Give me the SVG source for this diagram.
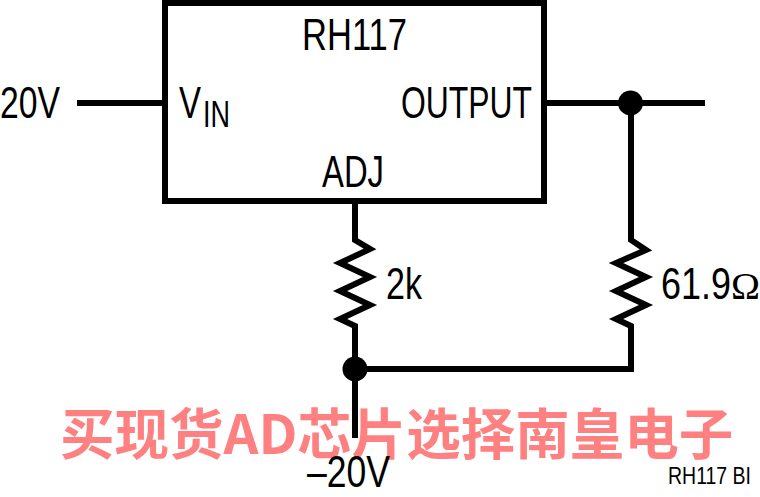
<svg xmlns="http://www.w3.org/2000/svg" width="760" height="497" viewBox="0 0 760 497">
<style>
.w{fill:none;stroke:#000;stroke-width:6;stroke-linejoin:miter;stroke-linecap:butt}
.d{fill:#000}
text{font-family:"Liberation Sans Narrow","Liberation Sans",sans-serif;fill:#000;font-size:44px}
.wm{font-family:"Noto Sans CJK SC",sans-serif;font-weight:700;font-size:54.5px;fill:#ff8080}
</style>
<rect width="760" height="497" fill="#fff"/>
<text class="wm" x="60" y="453.5">买现货AD芯片选择南皇电子</text>
<g id="connectors">
<path class="w" d="M77 103H165M547 103H705"/>
<path class="w" d="M355 204V240L370 249L340 263L370 277L340 291L370 305L340 319L355 326V438"/>
<path class="w" d="M631 103V240L646 250L616 263L646 277L616 291L646 305L616 319L631 326V369H355"/>
</g>
<g id="regulator">
<rect class="w" x="165" y="3" width="379" height="198"/>
<text x="302" y="50" textLength="105" lengthAdjust="spacingAndGlyphs">RH117</text>
<text x="179" y="118" textLength="22" lengthAdjust="spacingAndGlyphs">V</text>
<text x="203" y="127" style="font-size:36px" textLength="27" lengthAdjust="spacingAndGlyphs">IN</text>
<text x="401" y="118" textLength="131" lengthAdjust="spacingAndGlyphs">OUTPUT</text>
<text x="322" y="187" textLength="62" lengthAdjust="spacingAndGlyphs">ADJ</text>
</g>
<g id="junction-out"><circle class="d" cx="630.5" cy="103" r="12.5"/></g>
<g id="junction-adj"><circle class="d" cx="355" cy="369" r="12.5"/></g>
<g id="labels">
<text x="0" y="118" textLength="60" lengthAdjust="spacingAndGlyphs">20V</text>
<text x="386" y="299" textLength="36" lengthAdjust="spacingAndGlyphs">2k</text>
<text x="661" y="299" textLength="70" lengthAdjust="spacingAndGlyphs">61.9</text>
<text x="731" y="299" style="font-family:'Liberation Serif',serif;font-size:38px" textLength="29" lengthAdjust="spacingAndGlyphs">Ω</text>
<text x="307" y="487" textLength="83" lengthAdjust="spacingAndGlyphs">–20V</text>
<text x="668" y="484" style="font-size:24px" textLength="83" lengthAdjust="spacingAndGlyphs">RH117 BI</text>
</g>
</svg>
